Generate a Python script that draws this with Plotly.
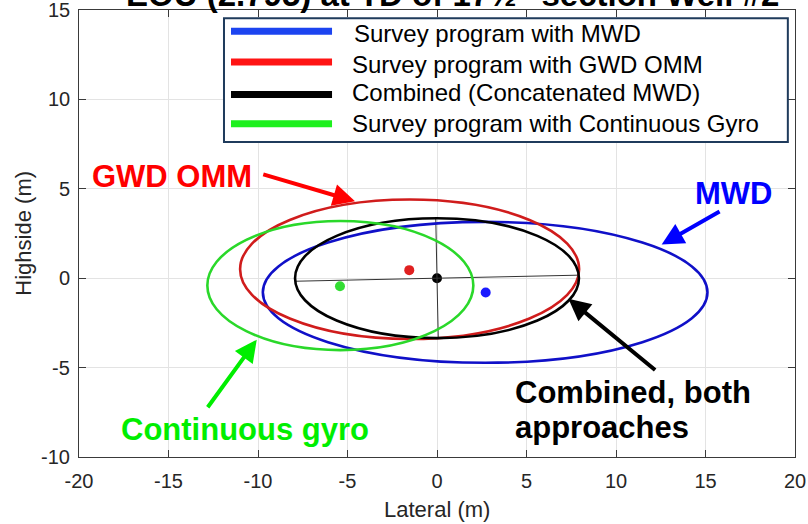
import plotly.graph_objects as go

# ---------------- data ----------------
series_names = [
    "Survey program with MWD",
    "Survey program with GWD OMM",
    "Combined (Concatenated MWD)",
    "Survey program with Continuous Gyro",
]
# ellipse centres and semi-axes (m)
ell_cx = [2.69, -1.53, 0.00, -5.40]
ell_cy = [-0.79, 0.50, 0.00, -0.41]
ell_a = [12.42, 9.47, 7.93, 7.43]
ell_b = [3.94, 3.90, 3.35, 3.61]
# centre points (m)
pt_x = [2.72, -1.55, 0.00, -5.42]
pt_y = [-0.80, 0.45, 0.00, -0.45]
# principal axes drawn inside the combined ellipse (m)
major_x = [-7.93, 7.93]
major_y = [-0.17, 0.17]
minor_x = [-0.07, 0.07]
minor_y = [3.35, -3.35]

x_ticks = [-20, -15, -10, -5, 0, 5, 10, 15, 20]
x_ticklabels = ["-20", "-15", "-10", "-5", "0", "5", "10", "15", "20"]
y_ticks = [-10, -5, 0, 5, 10, 15]
y_ticklabels = ["-10", "-5", "0", "5", "10", "15"]

title_text = 'EOU (2.795) at TD of 17½" section Well #2'
callouts = ["GWD OMM", "MWD", "Continuous gyro", "Combined, both", "approaches"]

# ---------------- styling ----------------
ell_colors = ["#1010c8", "#d01c1c", "#000000", "#2ad82a"]
pt_colors = ["#1a1aff", "#e02020", "#000000", "#33dd33"]
swatch_colors = ["#1c44f0", "#ff1414", "#000000", "#1ef01e"]
FONT = "Liberation Sans, Arial, Helvetica, sans-serif"

fig = go.Figure()

# centre dots
for i in range(4):
    fig.add_trace(go.Scatter(x=[pt_x[i]], y=[pt_y[i]], mode="markers",
                             marker=dict(size=10, color=pt_colors[i]),
                             showlegend=False, hoverinfo="skip"))
# axes of combined ellipse
fig.add_trace(go.Scatter(x=major_x, y=major_y, mode="lines",
                         line=dict(color="#333333", width=1),
                         showlegend=False, hoverinfo="skip"))
fig.add_trace(go.Scatter(x=minor_x, y=minor_y, mode="lines",
                         line=dict(color="#333333", width=1),
                         showlegend=False, hoverinfo="skip"))

shapes = []
for i in range(4):
    shapes.append(dict(type="circle", xref="x", yref="y",
                       x0=ell_cx[i] - ell_a[i], x1=ell_cx[i] + ell_a[i],
                       y0=ell_cy[i] - ell_b[i], y1=ell_cy[i] + ell_b[i],
                       line=dict(color=ell_colors[i], width=2.6)))

# manual legend (paper coords)
shapes.append(dict(type="rect", xref="paper", yref="paper",
                   x0=0.2025, x1=0.990, y0=0.7046, y1=0.9817,
                   fillcolor="white", line=dict(color="#1f3b5c", width=2)))
swatch_y = [0.9526, 0.8834, 0.8112, 0.7457]
text_y = [0.947, 0.878, 0.815, 0.7457]
text_x = [0.3815, 0.3790, 0.3790, 0.3790]
annotations = []
for i in range(4):
    shapes.append(dict(type="line", xref="paper", yref="paper",
                       x0=0.2123, x1=0.3534, y0=swatch_y[i], y1=swatch_y[i],
                       line=dict(color=swatch_colors[i], width=7)))
    annotations.append(dict(xref="paper", yref="paper", x=text_x[i], y=text_y[i],
                            text=series_names[i], showarrow=False,
                            xanchor="left", yanchor="middle",
                            font=dict(family=FONT, size=24, color="#000000")))

# y tick labels (drawn as text so the top one is not dropped)
for v, lab in zip(y_ticks, y_ticklabels):
    annotations.append(dict(xref="paper", yref="y", x=-0.0095, y=v, text=lab,
                            showarrow=False, xanchor="right", yanchor="middle",
                            font=dict(family=FONT, size=20, color="#262626")))

# callout texts (bold)
annotations += [
    dict(x=-14.78, y=5.69, text="<b>%s</b>" % callouts[0], showarrow=False,
         xanchor="center", yanchor="middle",
         font=dict(family=FONT, size=31, color="#ff0000")),
    dict(x=16.55, y=4.76, text="<b>%s</b>" % callouts[1], showarrow=False,
         xanchor="center", yanchor="middle",
         font=dict(family=FONT, size=31, color="#0000ff")),
    dict(x=-10.73, y=-8.46, text="<b>%s</b>" % callouts[2], showarrow=False,
         xanchor="center", yanchor="middle",
         font=dict(family=FONT, size=31, color="#00ee00")),
    dict(x=4.25, y=-6.40, text="<b>%s</b>" % callouts[3], showarrow=False,
         xanchor="left", yanchor="middle",
         font=dict(family=FONT, size=31, color="#000000")),
    dict(x=4.25, y=-8.35, text="<b>%s</b>" % callouts[4], showarrow=False,
         xanchor="left", yanchor="middle",
         font=dict(family=FONT, size=31, color="#000000")),
]
# arrows (tail -> head)
arrows = [
    ((-9.79, 5.83), (-4.58, 4.30), "#ff0000"),
    ((15.87, 3.78), (12.55, 1.88), "#0000ff"),
    ((-12.87, -7.30), (-10.07, -3.44), "#00ee00"),
    ((12.27, -5.20), (7.34, -1.15), "#000000"),
]
for (tx, ty), (hx, hy), c in arrows:
    annotations.append(dict(x=hx, y=hy, ax=tx, ay=ty, xref="x", yref="y",
                            axref="x", ayref="y", text="", showarrow=True,
                            arrowhead=2, arrowsize=1.1, arrowwidth=4,
                            arrowcolor=c, standoff=0, startstandoff=0))

# title (mostly cut off at the top edge, as in the reference) and axis titles
annotations.append(dict(xref="paper", yref="paper", x=0.522, y=1.034,
                        text="<b>%s</b>" % title_text, showarrow=False,
                        xanchor="center", yanchor="middle",
                        font=dict(family=FONT, size=33, color="#000000")))
annotations.append(dict(xref="paper", yref="paper", x=0.5, y=-0.118,
                        text="Lateral (m)", showarrow=False,
                        xanchor="center", yanchor="middle",
                        font=dict(family=FONT, size=22, color="#262626")))
annotations.append(dict(xref="paper", yref="paper", x=-0.078, y=0.5,
                        text="Highside (m)", showarrow=False, textangle=-90,
                        xanchor="center", yanchor="middle",
                        font=dict(family=FONT, size=22, color="#262626")))

axis_common = dict(showgrid=True, gridcolor="#e3e3e3", gridwidth=1,
                   zeroline=False, showline=True, linecolor="#3a3a3a",
                   linewidth=1, mirror="ticks", ticks="inside", ticklen=7,
                   tickcolor="#3a3a3a", automargin=False,
                   tickfont=dict(family=FONT, size=20, color="#262626"))

fig.update_layout(
    width=808, height=524, autosize=False,
    margin=dict(l=79, r=13, t=10, b=67, pad=0),
    paper_bgcolor="white", plot_bgcolor="white",
    showlegend=False,
    xaxis=dict(range=[-20, 20], tickvals=x_ticks, ticktext=x_ticklabels,
               ticklabelstandoff=6, **axis_common),
    yaxis=dict(range=[-10, 15], tickvals=y_ticks, showticklabels=False,
               **axis_common),
    shapes=shapes,
    annotations=annotations,
)

fig.write_html("out.html")
